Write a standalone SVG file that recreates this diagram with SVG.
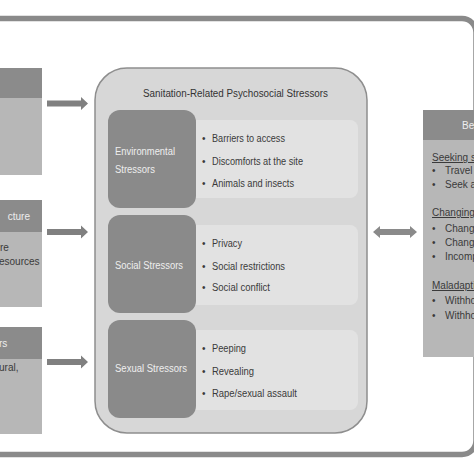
<svg xmlns="http://www.w3.org/2000/svg" width="474" height="474" viewBox="0 0 474 474">
<defs>
<style>
text{font-family:"Liberation Sans",Arial,sans-serif;}
.hd{fill:#8b8b8b;}
.bd{fill:#b7b7b7;}
.lt{fill:#eeeeee;font-size:10px;}
.dk{fill:#3a3a3a;font-size:10px;}
.blt{fill:#3a3a3a;font-size:10px;}
.ul{text-decoration:underline;}
.dbox{fill:#8a8a8a;}
.panel{fill:#e2e2e2;}
.arr{fill:#808080;}
</style>
</defs>
<rect x="0" y="0" width="474" height="474" fill="#ffffff"/>
<rect x="-20" y="18.5" width="496" height="436" rx="14" fill="none" stroke="#8a8a8a" stroke-width="5.5"/>

<g id="left-box-1">
<rect class="hd" x="-2" y="68" width="44" height="30"/>
<rect class="bd" x="-2" y="98" width="44" height="77"/>
</g>
<g id="left-box-2">
<rect class="hd" x="-2" y="200" width="44" height="32"/>
<rect class="bd" x="-2" y="232" width="44" height="75"/>
<text class="lt" x="30" y="220" text-anchor="end">cture</text>
<text class="dk" x="0" y="251">re</text>
<text class="dk" x="-1" y="265">esources</text>
</g>
<g id="left-box-3">
<rect class="hd" x="-2" y="327" width="44" height="32"/>
<rect class="bd" x="-2" y="359" width="44" height="75"/>
<text class="lt" x="-1" y="347">rs</text>
<text class="dk" x="-1" y="371">ural,</text>
</g>

<g id="center-box">
<rect x="95" y="68" width="272" height="365" rx="32" fill="#d7d7d7" stroke="#8e8e8e" stroke-width="1.5"/>
<text x="235.5" y="97" text-anchor="middle" fill="#333" font-size="10" textLength="185" lengthAdjust="spacingAndGlyphs">Sanitation-Related Psychosocial Stressors</text>
</g>

<g id="environmental">
<rect class="panel" x="180" y="120" width="178" height="78" rx="8"/>
<rect class="dbox" x="108" y="110" width="88" height="98" rx="12"/>
<text class="lt" x="115" y="155" textLength="60" lengthAdjust="spacingAndGlyphs">Environmental</text>
<text class="lt" x="115" y="173" textLength="40" lengthAdjust="spacingAndGlyphs">Stressors</text>
<text class="blt" x="202" y="141.5">•</text>
<text class="blt" x="212" y="141.5" textLength="73" lengthAdjust="spacingAndGlyphs">Barriers to access</text>
<text class="blt" x="202" y="164.5">•</text>
<text class="blt" x="212" y="164.5" textLength="91" lengthAdjust="spacingAndGlyphs">Discomforts at the site</text>
<text class="blt" x="202" y="186.5">•</text>
<text class="blt" x="212" y="186.5" textLength="82" lengthAdjust="spacingAndGlyphs">Animals and insects</text>
</g>

<g id="social">
<rect class="panel" x="180" y="225" width="178" height="80" rx="8"/>
<rect class="dbox" x="108" y="215" width="88" height="98" rx="12"/>
<text class="lt" x="115" y="268.5" textLength="68" lengthAdjust="spacingAndGlyphs">Social Stressors</text>
<text class="blt" x="202" y="246.5">•</text>
<text class="blt" x="212" y="246.5" textLength="30" lengthAdjust="spacingAndGlyphs">Privacy</text>
<text class="blt" x="202" y="269.5">•</text>
<text class="blt" x="212" y="269.5" textLength="73" lengthAdjust="spacingAndGlyphs">Social restrictions</text>
<text class="blt" x="202" y="290.5">•</text>
<text class="blt" x="212" y="290.5" textLength="58" lengthAdjust="spacingAndGlyphs">Social conflict</text>
</g>

<g id="sexual">
<rect class="panel" x="180" y="330" width="178" height="80" rx="8"/>
<rect class="dbox" x="108" y="320" width="88" height="98" rx="12"/>
<text class="lt" x="115" y="371.5" textLength="72" lengthAdjust="spacingAndGlyphs">Sexual Stressors</text>
<text class="blt" x="202" y="351.5">•</text>
<text class="blt" x="212" y="351.5" textLength="34" lengthAdjust="spacingAndGlyphs">Peeping</text>
<text class="blt" x="202" y="374.5">•</text>
<text class="blt" x="212" y="374.5" textLength="42" lengthAdjust="spacingAndGlyphs">Revealing</text>
<text class="blt" x="202" y="396.5">•</text>
<text class="blt" x="212" y="396.5" textLength="85" lengthAdjust="spacingAndGlyphs">Rape/sexual assault</text>
</g>

<g id="right-box">
<rect class="hd" x="423" y="110" width="60" height="30"/>
<rect class="bd" x="423" y="140" width="60" height="217"/>
<text class="lt" x="462" y="129">Be</text>
<text class="dk ul" x="432" y="161">Seeking s</text>
<text class="dk" x="432" y="174">•</text><text class="dk" x="445" y="174">Travel</text>
<text class="dk" x="432" y="188">•</text><text class="dk" x="445" y="188">Seek a</text>
<text class="dk ul" x="432" y="216">Changing</text>
<text class="dk" x="432" y="232">•</text><text class="dk" x="445" y="232">Chang</text>
<text class="dk" x="432" y="246">•</text><text class="dk" x="445" y="246">Chang</text>
<text class="dk" x="432" y="260">•</text><text class="dk" x="445" y="260">Incomp</text>
<text class="dk ul" x="432" y="289">Maladapti</text>
<text class="dk" x="432" y="304">•</text><text class="dk" x="445" y="304">Withho</text>
<text class="dk" x="432" y="319">•</text><text class="dk" x="445" y="319">Withho</text>
</g>

<g id="connectors">
<polygon class="arr" points="47,100.5 81,100.5 81,97 88,103.5 81,110 81,106.5 47,106.5"/>
<polygon class="arr" points="47,229 81,229 81,225.5 88,232 81,238.5 81,235 47,235"/>
<polygon class="arr" points="47,359 81,359 81,355.5 88,362 81,368.5 81,365 47,365"/>
<polygon fill="#8a8a8a" points="373,232 380,226 380,229 410,229 410,226 417,232 410,238 410,235 380,235 380,238"/>
</g>
</svg>
